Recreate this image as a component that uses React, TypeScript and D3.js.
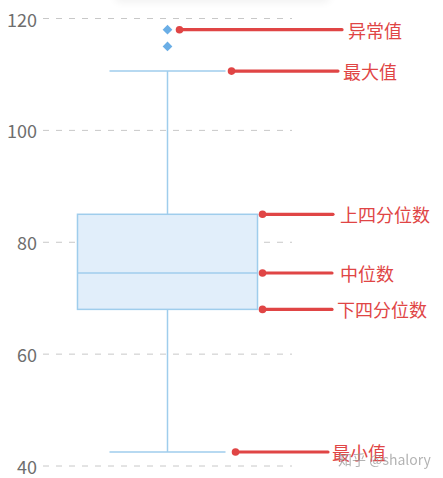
import React from 'react';
import * as d3 from 'd3';

const categories = ['A'];
const statNames = ['min', 'q1', 'median', 'q3', 'max'];
const statValues = [42.5, 68, 74.5, 85, 110.6];
const outliers = [118, 115];
const yTicks = [40, 60, 80, 100, 120];
const annotationLabels = ['异常值', '最大值', '上四分位数', '中位数', '下四分位数', '最小值'];
const annotationValues = [118, 110.6, 85, 74.5, 68, 42.5];

const W = 443;
const H = 478;

export default function App() {
  const y = d3.scaleLinear().domain([40, 120]).range([466, 18.5]);
  const x = d3.scaleBand().domain(categories).range([43, 292]);
  const stat = (k: string) => statValues[statNames.indexOf(k)];
  const cx = (x(categories[0]) ?? 0) + x.bandwidth() / 2;
  const boxW = x.bandwidth() * 0.723;
  const capW = x.bandwidth() * 0.466;
  const boxL = cx - boxW / 2;
  const boxR = cx + boxW / 2;
  const capL = cx - capW / 2;
  const capR = cx + capW / 2;

  // annotation layout: dot x, line end x, text x
  const annLayout = [
    [cx + 12, 342, 348],
    [capR + 6, 338, 343],
    [boxR + 5, 333, 340],
    [boxR + 5, 332, 340],
    [boxR + 5, 332, 337],
    [capR + 10, 328, 332],
  ];

  const boxColor = '#9fcdec';
  const red = '#e04545';
  const font = '"Noto Sans CJK SC", "Noto Sans", sans-serif';

  return (
    <svg width={W} height={H} style={{ position: 'absolute', left: 0, top: 0, background: '#fff' }}>
      <defs>
        <filter id="blur" x="-20%" y="-200%" width="140%" height="500%">
          <feGaussianBlur stdDeviation="4" />
        </filter>
      </defs>
      <rect x={115} y={-8} width={215} height={10} rx={5} fill="#000" opacity={0.06} filter="url(#blur)" />
      {yTicks.map((t) => (
        <g key={t}>
          <line x1={43} x2={292} y1={y(t)} y2={y(t)} stroke="#c8c8c8" strokeWidth={1} strokeDasharray="6,7" />
          <text x={37} y={y(t)} textAnchor="end" dominantBaseline="central" fontSize={18} fill="#6e6e6e" fontFamily={font}>
            {t}
          </text>
        </g>
      ))}
      {/* whiskers */}
      <line x1={cx} x2={cx} y1={y(stat('max'))} y2={y(stat('q3'))} stroke={boxColor} strokeWidth={1.5} />
      <line x1={cx} x2={cx} y1={y(stat('q1'))} y2={y(stat('min'))} stroke={boxColor} strokeWidth={1.5} />
      <line x1={capL} x2={capR} y1={y(stat('max'))} y2={y(stat('max'))} stroke={boxColor} strokeWidth={1.5} />
      <line x1={capL} x2={capR} y1={y(stat('min'))} y2={y(stat('min'))} stroke={boxColor} strokeWidth={1.5} />
      {/* box */}
      <rect
        x={boxL}
        y={y(stat('q3'))}
        width={boxW}
        height={y(stat('q1')) - y(stat('q3'))}
        fill="#e1eefa"
        stroke={boxColor}
        strokeWidth={1.5}
      />
      <line x1={boxL} x2={boxR} y1={y(stat('median'))} y2={y(stat('median'))} stroke={boxColor} strokeWidth={1.5} />
      {/* outliers */}
      {outliers.map((o, i) => (
        <path
          key={i}
          d={d3.symbol(d3.symbolDiamond2, 60)() ?? ''}
          transform={`translate(${cx},${y(o)})`}
          fill="#6aaee6"
        />
      ))}
      {/* annotations */}
      {annotationLabels.map((lab, i) => {
        const yy = y(annotationValues[i]);
        const [dx, lx, tx] = annLayout[i];
        return (
          <g key={lab}>
            <line x1={dx} x2={lx} y1={yy} y2={yy} stroke={red} strokeWidth={3.2} strokeLinecap="round" />
            <circle cx={dx} cy={yy} r={3.8} fill={red} />
            <text x={tx} y={yy} dominantBaseline="central" fontSize={18} fill={red} fontFamily={font}>
              {lab}
            </text>
          </g>
        );
      })}
      <text x={338} y={459} dominantBaseline="central" fontSize={14} fill="#9a9a9a" opacity={0.75} fontFamily={font}>
        知乎 @shalory
      </text>
    </svg>
  );
}
